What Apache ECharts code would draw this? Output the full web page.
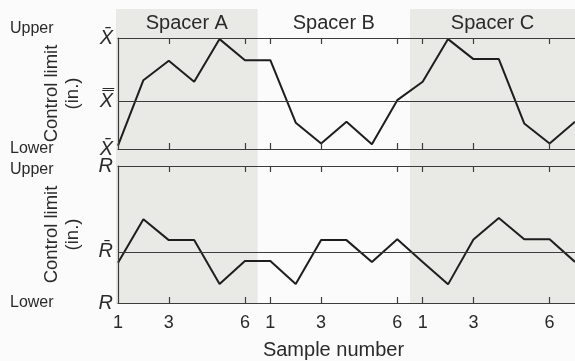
<!DOCTYPE html>
<html>
<head>
<meta charset="utf-8">
<script src="https://cdn.jsdelivr.net/npm/echarts@6/dist/echarts.min.js"></script>
<style>
  html, body { margin: 0; padding: 0; background: #fcfbfc; }
  #chart { width: 575px; height: 361px; }
</style>
</head>
<body>
<div id="chart"></div>
<script>
// sample index runs 0..18 across the three spacers (6 samples each)
const samplesPerSpacer = 6;
const spacerNames = ['Spacer A', 'Spacer B', 'Spacer C'];
const xbarValues = [0.3, 6.2, 7.95, 6.06, 9.9, 8.0, 8.0, 2.37, 0.5, 2.46, 0.42, 4.4, 6.06, 9.9, 8.1, 8.1, 2.3, 0.5, 2.46];
const rangeValues = [2.93, 6.12, 4.59, 4.59, 1.38, 3.06, 3.06, 1.38, 4.59, 4.59, 3.0, 4.66, 3.0, 1.36, 4.64, 6.21, 4.66, 4.66, 3.0];
// [lower, center, upper]
const xbarLimits = [0, 4.26, 10];
const rangeLimits = [0, 3.74, 10];
const xbarLimitLabels = ['X\u0304', 'X\u033F', 'X\u0304'];
const rangeLimitLabels = ['R', 'R\u0304', 'R'];
const labelTicks = [0, 2, 5, 6, 8, 11, 12, 14, 17];
const innerTicks = [2, 5, 6, 8, 11, 12, 14, 17];

const font = '"Liberation Sans", Arial, Helvetica, sans-serif';
const ink = '#2a2a2a';
const axisColor = '#3c3c3c';
const shade = '#e9e9e6';

const chart = echarts.init(document.getElementById('chart'));

const toPairs = (arr) => arr.map((v, i) => [i, v]);

const spacerAreas = spacerNames.map((name, k) => {
  const start = k === 0 ? -0.08 : k * samplesPerSpacer - 0.5;
  const end = k === spacerNames.length - 1 ? 18 : (k + 1) * samplesPerSpacer - 0.5;
  return [
    {
      name,
      xAxis: start,
      itemStyle: { color: k === 1 ? 'rgba(0,0,0,0)' : shade },
    },
    { xAxis: end },
  ];
});

const makeXAxis = (gridIndex, position, withLabels) => ({
  type: 'value',
  gridIndex,
  position,
  z: 10,
  min: 0,
  max: 18,
  axisLine: { show: true, onZero: false, lineStyle: { color: axisColor, width: 1.2 } },
  axisTick: {
    show: true,
    inside: true,
    length: 6,
    customValues: innerTicks,
    lineStyle: { color: axisColor, width: 1.2 },
  },
  axisLabel: withLabels
    ? {
        show: true,
        customValues: labelTicks,
        formatter: (v) => String((v % samplesPerSpacer) + 1),
        fontFamily: font,
        fontSize: 18,
        color: ink,
        margin: 11,
      }
    : { show: false },
  splitLine: { show: false },
  name: withLabels ? 'Sample number' : '',
  nameLocation: 'middle',
  nameGap: 37,
  nameTextStyle: { fontFamily: font, fontSize: 20, color: ink, padding: [0, 26, 0, 0] },
});

const makeYAxis = (gridIndex, limits, labels) => ({
  type: 'value',
  gridIndex,
  z: 10,
  min: limits[0],
  max: limits[2],
  axisLine: { show: true, lineStyle: { color: axisColor, width: 1.2 } },
  axisTick: { show: false },
  splitLine: { show: false },
  axisLabel: {
    show: true,
    customValues: limits,
    formatter: (v) => labels[limits.indexOf(v)],
    fontFamily: font,
    fontStyle: 'italic',
    fontSize: 20,
    color: ink,
    margin: 5,
  },
  name: 'Control limit\n(in.)',
  nameLocation: 'middle',
  nameRotate: 90,
  nameGap: 35,
  nameTextStyle: { fontFamily: font, fontSize: 18.5, lineHeight: 21, color: ink },
});

const limitLine = (limits) => ({
  silent: true,
  symbol: 'none',
  label: { show: false },
  lineStyle: { color: axisColor, width: 1.1, type: 'solid' },
  data: [{ yAxis: limits[1] }],
});

const sideText = (text, top) => ({
  type: 'text',
  left: 10,
  top,
  style: { text, fill: ink, font: '16px ' + font },
});

chart.setOption({
  animation: false,
  grid: [
    { left: 116, right: 0, top: 9, bottom: 57 },
    { left: 118, right: 0, top: 38, height: 111 },
    { left: 118, right: 0, top: 166, height: 137 },
  ],
  xAxis: [
    { type: 'value', gridIndex: 0, min: -0.08, max: 18, show: false },
    makeXAxis(1, 'bottom', false),
    makeXAxis(1, 'top', false),
    makeXAxis(2, 'bottom', true),
    makeXAxis(2, 'top', false),
  ],
  yAxis: [
    { type: 'value', gridIndex: 0, min: 0, max: 1, show: false },
    makeYAxis(1, xbarLimits, xbarLimitLabels),
    makeYAxis(2, rangeLimits, rangeLimitLabels),
  ],
  graphic: [
    sideText('Upper', 21),
    sideText('Lower', 141),
    sideText('Upper', 162),
    sideText('Lower', 295),
  ],
  series: [
    {
      type: 'line',
      xAxisIndex: 0,
      yAxisIndex: 0,
      data: [],
      silent: true,
      z: 0,
      markArea: {
        silent: true,
        label: {
          show: true,
          position: 'insideTop',
          distance: 4,
          fontFamily: font,
          fontSize: 20,
          color: ink,
        },
        data: spacerAreas,
      },
    },
    {
      type: 'line',
      xAxisIndex: 1,
      yAxisIndex: 1,
      data: toPairs(xbarValues),
      symbol: 'none',
      lineStyle: { color: '#1e1e1e', width: 2 },
      markLine: limitLine(xbarLimits),
    },
    {
      type: 'line',
      xAxisIndex: 3,
      yAxisIndex: 2,
      data: toPairs(rangeValues),
      symbol: 'none',
      lineStyle: { color: '#1e1e1e', width: 2 },
      markLine: limitLine(rangeLimits),
    },
  ],
});
</script>
</body>
</html>
